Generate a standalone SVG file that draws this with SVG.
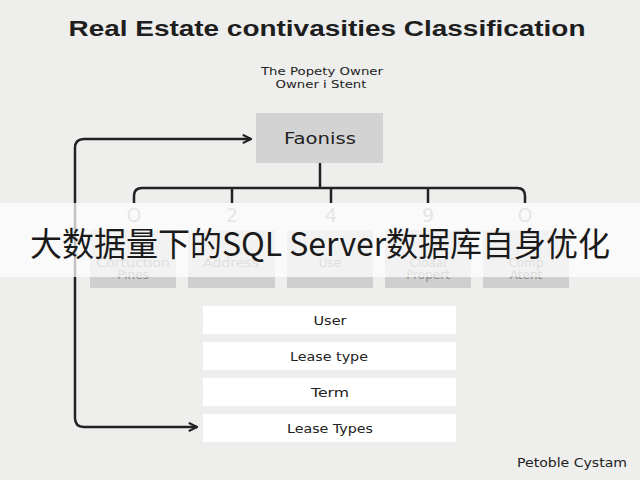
<svg xmlns="http://www.w3.org/2000/svg" width="640" height="480" viewBox="0 0 640 480">
<style>
  text { font-family: "DejaVu Sans", "Liberation Sans", sans-serif; text-anchor: middle; fill: #222; }
  .title { font-family: "Liberation Sans", "DejaVu Sans", sans-serif; font-size: 22px; font-weight: bold; fill: #1e1e1e; }
  .sub { font-size: 11px; }
  .num { font-size: 19px; fill: #a0a0a0; }
  .cat { fill: #cfcfcf; }
  .cattext { font-size: 12px; fill: #8c8c8c; }
  .item { fill: #ffffff; }
  .itemtext { font-size: 13px; }
  .line { fill: none; stroke: #222; stroke-width: 2.5; }
  .banner-text { font-family: "Noto Sans CJK SC", "Noto Sans", sans-serif; font-size: 33px; fill: #1a1a1a; }
</style>
<defs>
  <marker id="arrow" viewBox="0 0 12 12" refX="11" refY="6" markerWidth="11" markerHeight="11" orient="auto" markerUnits="userSpaceOnUse">
    <path d="M2,1.5 L11,6 L2,10.5" fill="none" stroke="#222" stroke-width="2.4" stroke-linejoin="miter"/>
  </marker>
</defs>
<rect width="640" height="480" fill="#eeeeed"/>
<text class="title" x="327" y="36" textLength="517" lengthAdjust="spacingAndGlyphs">Real Estate contivasities Classification</text>
<text class="sub" x="322" y="75" textLength="122" lengthAdjust="spacingAndGlyphs">The Popety Owner</text>
<text class="sub" x="321" y="88" textLength="91" lengthAdjust="spacingAndGlyphs">Owner i Stent</text>

<g id="connectors">
  <path class="line" d="M320,163 V188"/>
  <path class="line" d="M134,203 V196 Q134,188 142,188 H517 Q525,188 525,196 V203"/>
  <path class="line" d="M232,188 V203"/>
  <path class="line" d="M331,188 V203"/>
  <path class="line" d="M428,188 V203"/>
  <path class="line" d="M75,300 V148 Q75,139 84,139 H251" marker-end="url(#arrow)"/>
  <path class="line" d="M75,300 V418 Q75,427 84,427 H197" marker-end="url(#arrow)"/>
</g>

<g id="node-faoniss">
  <rect x="256" y="113" width="127" height="50" fill="#d3d3d3"/>
  <text x="320" y="144" style="font-size:15px" textLength="72" lengthAdjust="spacingAndGlyphs">Faoniss</text>
</g>

<g id="numbers">
  <text class="num" x="134" y="222">O</text>
  <text class="num" x="232" y="222">2</text>
  <text class="num" x="331" y="222">4</text>
  <text class="num" x="428" y="222">9</text>
  <text class="num" x="525" y="222">O</text>
</g>

<g id="node-cat1"><rect class="cat" x="90" y="230" width="86" height="58"/><text class="cattext" x="133" y="267" textLength="74" lengthAdjust="spacingAndGlyphs">Cortuction</text><text class="cattext" x="133" y="279">Pines</text></g>
<g id="node-cat2"><rect class="cat" x="188" y="230" width="87" height="58"/><text class="cattext" x="231" y="267" textLength="56" lengthAdjust="spacingAndGlyphs">Address</text></g>
<g id="node-cat3"><rect class="cat" x="287" y="230" width="86" height="58"/><text class="cattext" x="330" y="267">Use</text></g>
<g id="node-cat4"><rect class="cat" x="385" y="230" width="86" height="58"/><text class="cattext" x="428" y="267">Cloaal</text><text class="cattext" x="428" y="279">Propert</text></g>
<g id="node-cat5"><rect class="cat" x="483" y="230" width="86" height="58"/><text class="cattext" x="526" y="267">Comp</text><text class="cattext" x="526" y="279">Atent</text></g>

<g id="banner">
  <rect x="0" y="203" width="640" height="74" fill="#ffffff" fill-opacity="0.72"/>
  <text class="banner-text" x="320" y="256" textLength="580" lengthAdjust="spacingAndGlyphs">大数据量下的SQL Server数据库自身优化</text>
</g>

<g id="node-user"><rect class="item" x="203" y="306" width="253" height="28"/><text class="itemtext" x="330" y="325" textLength="33" lengthAdjust="spacingAndGlyphs">User</text></g>
<g id="node-leasetype"><rect class="item" x="203" y="342" width="253" height="28"/><text class="itemtext" x="329" y="361" textLength="78" lengthAdjust="spacingAndGlyphs">Lease type</text></g>
<g id="node-term"><rect class="item" x="203" y="378" width="253" height="28"/><text class="itemtext" x="330" y="397" textLength="38" lengthAdjust="spacingAndGlyphs">Term</text></g>
<g id="node-leasetypes"><rect class="item" x="203" y="414" width="253" height="28"/><text class="itemtext" x="330" y="433" textLength="86" lengthAdjust="spacingAndGlyphs">Lease Types</text></g>

<text x="572" y="467" style="font-size:12px" textLength="110" lengthAdjust="spacingAndGlyphs">Petoble Cystam</text>
</svg>
